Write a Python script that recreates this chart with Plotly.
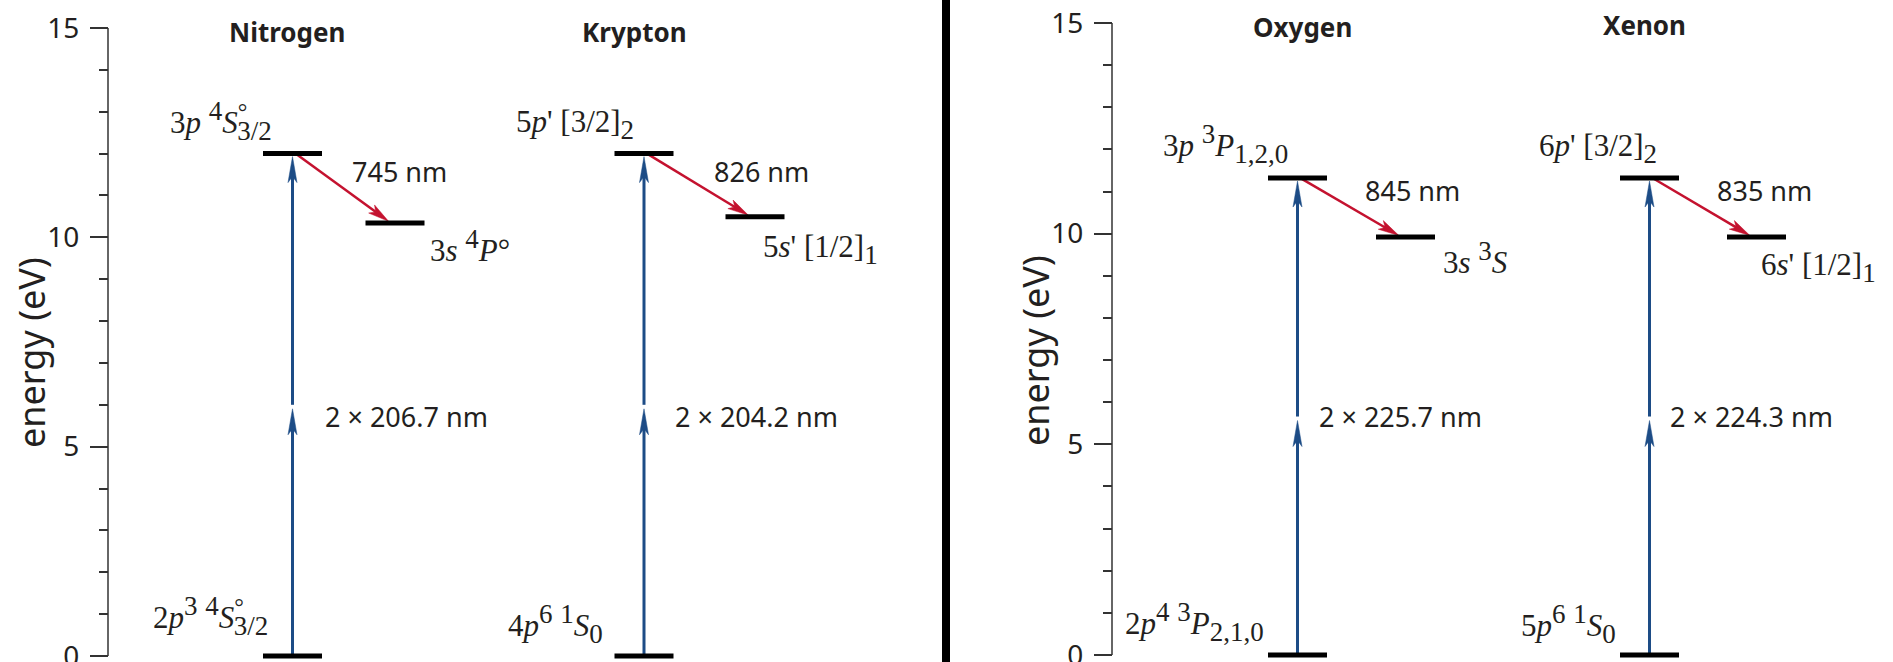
import math
import plotly.graph_objects as go

W, H = 1893, 662

# ---------------- data ----------------
elements = ["Nitrogen", "Krypton", "Oxygen", "Xenon"]
ground_energy = [0.0, 0.0, 0.0, 0.0]          # eV
upper_energy = [12.0, 12.0, 11.32, 11.32]     # eV (two-photon excited level)
lower_energy = [10.34, 10.49, 9.92, 9.92]     # eV (fluorescence final level)
pump_nm = ["206.7", "204.2", "225.7", "224.3"]
emission_nm = ["745", "826", "845", "835"]
y_ticks = [0, 5, 10, 15]

SUP = "<sup><span style='font-size:27px'>{}</span></sup>"
SUB = "<sub><span style='font-size:27px'>{}</span></sub>"
DEG = "<sup><span style='font-size:24px;letter-spacing:-10px'>°</span></sup>"

ground_labels = [
    "2<i>p</i>" + SUP.format("3") + " " + SUP.format("4") + "<i>S</i>" + DEG + SUB.format("3/2"),
    "4<i>p</i>" + SUP.format("6") + " " + SUP.format("1") + "<i>S</i>" + SUB.format("0"),
    "2<i>p</i>" + SUP.format("4") + " " + SUP.format("3") + "<i>P</i>" + SUB.format("2,1,0"),
    "5<i>p</i>" + SUP.format("6") + " " + SUP.format("1") + "<i>S</i>" + SUB.format("0"),
]
upper_labels = [
    "3<i>p</i> " + SUP.format("4") + "<i>S</i>" + DEG + SUB.format("3/2"),
    "5<i>p</i>' [3/2]" + SUB.format("2"),
    "3<i>p</i> " + SUP.format("3") + "<i>P</i>" + SUB.format("1,2,0"),
    "6<i>p</i>' [3/2]" + SUB.format("2"),
]
lower_labels = [
    "3<i>s</i> " + SUP.format("4") + "<i>P</i>°",
    "5<i>s</i>' [1/2]" + SUB.format("1"),
    "3<i>s</i> " + SUP.format("3") + "<i>S</i>",
    "6<i>s</i>' [1/2]" + SUB.format("1"),
]

# ---------------- layout constants (pixels) ----------------
panel_of = [0, 0, 1, 1]
col_x = [292.5, 644, 1297.5, 1649.5]      # x of ground/upper levels
lower_x = [395, 755, 1405.5, 1756.5]      # x of lower levels
bar_half = 29.5
axis_x = [108, 1112]                       # y-axis spine positions
sep = (942, 950)                           # black separator bar
px_zero = [656, 655]                       # pixel row of 0 eV
px_top = [28, 23]                          # pixel row of 15 eV
y_pad = 0.1
x_span = [(0, sep[0]), (sep[1], W)]

upper_off = [(-72, 33), (-69, 29), (-72, 34), (-51.5, 30)]
lower_off = [(75, -23), (65, -33), (69, -21), (62, -30)]
ground_off = [(-82, 40), (-89, 32), (-103, 33), (-81, 31)]
emis_off = [(107, -18), (117.5, -18), (115, -12), (115, -12)]
pump_off = [(30, -12), (29, -12), (19, 0), (18, 0)]
title_pos = [(287, 32), (634, 32), (1302.5, 27), (1644.5, 25)]
ytitle_pos = [(32, 353), (1035, 351)]

BLUE = "#1d4c86"
RED = "#c4122f"
INK = "#231f20"
AX = "#333333"
SANS = "Noto Sans"
SERIF = "Liberation Serif"

ppe = [(px_zero[p] - px_top[p]) / 15.0 for p in range(2)]


def arrow_parts(x0, e0, x1, e1, s, L, w, notch, standoff):
    X0, Y0, X1, Y1 = x0, e0 * s, x1, e1 * s
    dx, dy = X1 - X0, Y1 - Y0
    d = math.hypot(dx, dy)
    ux, uy = dx / d, dy / d
    nx, ny = -uy, ux
    tx, ty = X1 - standoff * ux, Y1 - standoff * uy
    bx, by = tx - L * ux, ty - L * uy
    mx, my = tx - (L - notch) * ux, ty - (L - notch) * uy
    ex, ey = tx - (L - notch - 2) * ux, ty - (L - notch - 2) * uy
    shaft = [(X0, Y0 / s), (ex, ey / s)]
    poly = [(tx, ty / s), (bx + w / 2 * nx, (by + w / 2 * ny) / s), (mx, my / s),
            (bx - w / 2 * nx, (by - w / 2 * ny) / s), (tx, ty / s)]
    return shaft, poly


fig = go.Figure()
annotations = []

for p in range(2):
    xa = "x" if p == 0 else "x2"
    ya = "y" if p == 0 else "y2"
    idx = [i for i in range(len(elements)) if panel_of[i] == p]

    # spine
    fig.add_trace(go.Scatter(x=[axis_x[p], axis_x[p]], y=[y_ticks[0], y_ticks[-1]], mode="lines",
                             line=dict(color=AX, width=1.5), xaxis=xa, yaxis=ya,
                             showlegend=False, hoverinfo="skip"))

    for color, width, specs in [
        (BLUE, 3, [(col_x[i], ground_energy[i], col_x[i], (ground_energy[i] + upper_energy[i]) / 2, 26, 9, 6, 4)
                   for i in idx] +
                  [(col_x[i], (ground_energy[i] + upper_energy[i]) / 2, col_x[i], upper_energy[i], 26, 9, 6, 3)
                   for i in idx]),
        (RED, 2.5, [(col_x[i] + 3, upper_energy[i], lower_x[i] - 4, lower_energy[i], 21, 10, 5, 3) for i in idx]),
    ]:
        sx, sy, hx, hy = [], [], [], []
        for (x0, e0, x1, e1, L, w, notch, so) in specs:
            shaft, poly = arrow_parts(x0, e0, x1, e1, ppe[p], L, w, notch, so)
            sx += [shaft[0][0], shaft[1][0], None]
            sy += [shaft[0][1], shaft[1][1], None]
            hx += [q[0] for q in poly] + [None]
            hy += [q[1] for q in poly] + [None]
        fig.add_trace(go.Scatter(x=sx, y=sy, mode="lines", line=dict(color=color, width=width),
                                 xaxis=xa, yaxis=ya, showlegend=False, hoverinfo="skip"))
        fig.add_trace(go.Scatter(x=hx, y=hy, mode="lines", fill="toself", fillcolor=color,
                                 line=dict(color=color, width=0.5), xaxis=xa, yaxis=ya,
                                 showlegend=False, hoverinfo="skip"))

    # energy levels
    lx, ly = [], []
    for i in idx:
        for cx, e in [(col_x[i], ground_energy[i]), (col_x[i], upper_energy[i]), (lower_x[i], lower_energy[i])]:
            lx += [cx - bar_half, cx + bar_half, None]
            ly += [e, e, None]
    fig.add_trace(go.Scatter(x=lx, y=ly, mode="lines", line=dict(color="black", width=5),
                             xaxis=xa, yaxis=ya, showlegend=False, hoverinfo="skip"))

    for i in idx:
        serif = dict(family=SERIF, size=31, color=INK)
        sans = dict(family=SANS, size=27, color=INK)
        annotations += [
            dict(x=col_x[i] + upper_off[i][0], y=upper_energy[i], yshift=upper_off[i][1], text=upper_labels[i],
                 xref=xa, yref=ya, showarrow=False, xanchor="center", yanchor="middle", font=serif),
            dict(x=lower_x[i] + lower_off[i][0], y=lower_energy[i], yshift=lower_off[i][1], text=lower_labels[i],
                 xref=xa, yref=ya, showarrow=False, xanchor="center", yanchor="middle", font=serif),
            dict(x=col_x[i] + ground_off[i][0], y=ground_energy[i], yshift=ground_off[i][1], text=ground_labels[i],
                 xref=xa, yref=ya, showarrow=False, xanchor="center", yanchor="middle", font=serif),
            dict(x=col_x[i] + emis_off[i][0], y=upper_energy[i], yshift=emis_off[i][1],
                 text=emission_nm[i] + " nm",
                 xref=xa, yref=ya, showarrow=False, xanchor="center", yanchor="middle", font=sans),
            dict(x=col_x[i] + pump_off[i][0], y=(ground_energy[i] + upper_energy[i]) / 2, yshift=pump_off[i][1],
                 text="2 × " + pump_nm[i] + " nm",
                 xref=xa, yref=ya, showarrow=False, xanchor="left", yanchor="middle", font=sans),
            dict(x=title_pos[i][0], y=1 - title_pos[i][1] / H, text="<b>" + elements[i] + "</b>",
                 xref=xa, yref="paper", showarrow=False, xanchor="center", yanchor="middle",
                 font=dict(family=SANS, size=26, color=INK)),
        ]
    annotations.append(dict(x=ytitle_pos[p][0] / W, y=1 - ytitle_pos[p][1] / H, text="energy (eV)",
                            xref="paper", yref="paper", showarrow=False, textangle=-90,
                            xanchor="center", yanchor="middle",
                            font=dict(family=SANS, size=36, color=INK)))


def yaxis_cfg(p):
    bottom_px = px_zero[p] + y_pad * ppe[p]
    top_px = px_top[p] - y_pad * ppe[p]
    return dict(domain=[1 - bottom_px / H, 1 - top_px / H], range=[-y_pad, 15 + y_pad],
                anchor="free", position=axis_x[p] / W, side="left", automargin=False,
                ticklabeloverflow="allow", ticklabelstandoff=5,
                tickmode="array", tickvals=y_ticks, ticks="outside", ticklen=18, tickwidth=1.5,
                tickcolor=AX, showgrid=False, zeroline=False, showline=False,
                tickfont=dict(family=SANS, size=28, color=INK),
                minor=dict(tickmode="array",
                           tickvals=[v for v in range(y_ticks[0], y_ticks[-1] + 1) if v not in y_ticks],
                           ticks="outside", ticklen=9, tickwidth=1.5, tickcolor=AX, showgrid=False),
                fixedrange=True)


def xaxis_cfg(p):
    a, b = x_span[p]
    return dict(domain=[a / W, b / W], range=[a, b], visible=False, fixedrange=True, automargin=False,
                anchor="y" if p == 0 else "y2")


fig.update_layout(
    width=W, height=H, margin=dict(l=0, r=0, t=0, b=0, autoexpand=False),
    paper_bgcolor="white", plot_bgcolor="white",
    xaxis=xaxis_cfg(0), xaxis2=xaxis_cfg(1),
    yaxis=yaxis_cfg(0), yaxis2=yaxis_cfg(1),
    annotations=annotations,
    shapes=[dict(type="rect", xref="paper", yref="paper", x0=sep[0] / W, x1=sep[1] / W, y0=0, y1=1,
                 fillcolor="black", line=dict(width=0), layer="above")],
    showlegend=False, hovermode=False,
)

fig.write_html("out.html", config={"displayModeBar": False})
